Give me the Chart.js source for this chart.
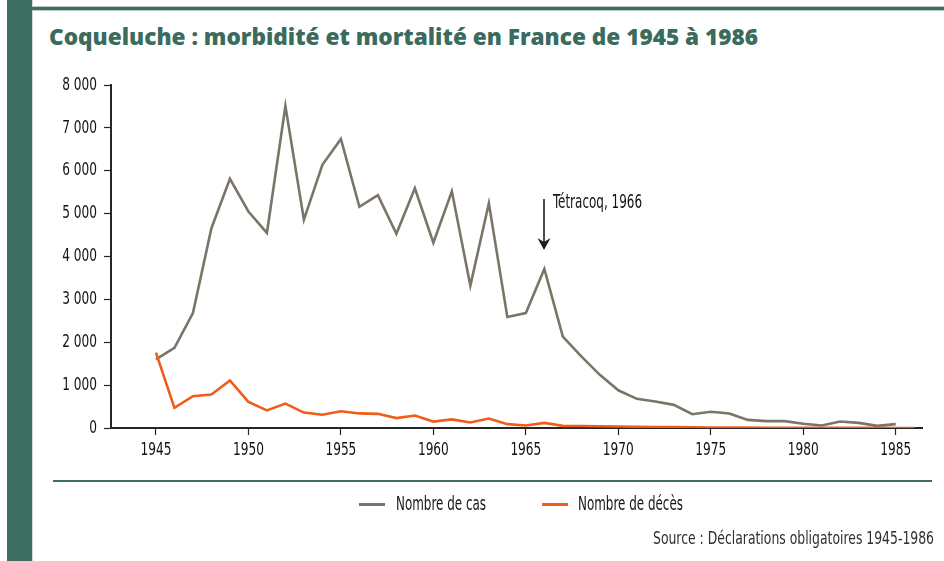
<!DOCTYPE html>
<html lang="fr">
<head>
<meta charset="utf-8">
<title>Coqueluche : morbidité et mortalité en France de 1945 à 1986</title>
<script src="https://cdn.jsdelivr.net/npm/chart.js@4.4.1/dist/chart.umd.min.js"></script>
<style>
  html, body { margin: 0; padding: 0; background: #fff; }
  #page { position: relative; width: 944px; height: 561px; overflow: hidden; background: #fff; }
  #sidebar { position: absolute; left: 7px; top: 0; width: 25px; height: 561px; background: #3e6e61; }
  #sideedge { position: absolute; left: 32px; top: 0; width: 1px; height: 561px; background: #cfd8d5; }
  #topline { position: absolute; left: 32px; top: 6px; width: 912px; height: 3px; background: #3e6e61;
             border-top: 1px solid #bccac5; border-bottom: 1px solid #bccac5; }
  #title { position: absolute; left: 49px; top: 25px; white-space: nowrap; line-height: 1;
           font-family: 'Open Sans', Lato, sans-serif; font-weight: 800; font-size: 22px; color: #3a6b5d;
           transform-origin: left center; }
  #chart { position: absolute; left: 0; top: 0; }
  #sep { position: absolute; left: 53px; top: 480px; width: 879px; height: 2px; background: #3e6e61; }
  .narrow { font-family: 'Liberation Sans Narrow', 'Arial Narrow', 'DejaVu Sans Condensed', 'Roboto Condensed', sans-serif; }
  .lg-line { position: absolute; height: 3px; }
  .lg-text { position: absolute; white-space: nowrap; line-height: 1; font-size: 19px; color: #161616; transform-origin: left center; }
  #source { position: absolute; left: 653px; top: 529px; white-space: nowrap; line-height: 1; font-size: 18px; color: #2e2e2e; transform-origin: left center; }
</style>
</head>
<body>
<div id="page">
  <div id="sidebar"></div>
  <div id="sideedge"></div>
  <div id="topline"></div>
  <div id="title">Coqueluche : morbidité et mortalité en France de 1945 à 1986</div>
  <canvas id="chart" width="944" height="561"></canvas>
  <div id="sep"></div>
  <div class="lg-line" style="left:359px; top:503px; width:26px; background:#7b7569;"></div>
  <div id="lg1" class="lg-text narrow" style="left:396px; top:494px;">Nombre de cas</div>
  <div class="lg-line" style="left:542px; top:503px; width:26px; background:#f25c1a;"></div>
  <div id="lg2" class="lg-text narrow" style="left:578px; top:494px;">Nombre de décès</div>
  <div id="source" class="narrow">Source : Déclarations obligatoires 1945-1986</div>
</div>
<script>
// ---------------- DATA ----------------
const years = [1945, 1946, 1947, 1948, 1949, 1950, 1951, 1952, 1953, 1954,
               1955, 1956, 1957, 1958, 1959, 1960, 1961, 1962, 1963, 1964,
               1965, 1966, 1967, 1968, 1969, 1970, 1971, 1972, 1973, 1974,
               1975, 1976, 1977, 1978, 1979, 1980, 1981, 1982, 1983, 1984,
               1985, 1986];

// Nombre de cas (déclarations), 1945-1985
const cases = [1600, 1870, 2680, 4660, 5810, 5050, 4550, 7510, 4860, 6140,
               6740, 5160, 5430, 4530, 5590, 4320, 5520, 3320, 5240, 2590,
               2680, 3710, 2130, 1670, 1240, 880, 680, 620, 540, 320,
               380, 340, 190, 160, 160, 100, 60, 150, 120, 50,
               90, null];

// Nombre de décès, 1945-1986
const deaths = [1760, 470, 740, 780, 1110, 610, 410, 570, 360, 310,
                390, 340, 330, 230, 290, 150, 200, 130, 220, 90,
                60, 120, 50, 45, 40, 35, 30, 25, 20, 15,
                10, 10, 8, 6, 5, 4, 3, 3, 2, 2,
                1, 0];

const xTickValues = [1945, 1950, 1955, 1960, 1965, 1970, 1975, 1980, 1985];
const yTickValues = [0, 1000, 2000, 3000, 4000, 5000, 6000, 7000, 8000];

const seriesNames = ['Nombre de cas', 'Nombre de décès'];
const annotationYear = 1966;
const annotationLabel = 'Tétracoq, 1966';

// ---------------- CHART ----------------
const NARROW = "'Liberation Sans Narrow', 'Arial Narrow', 'DejaVu Sans Condensed', 'Roboto Condensed', sans-serif";
const AXIS = '#262626';

function fmt(v) { return String(v).replace(/\B(?=(\d{3})+(?!\d))/g, ' '); }

const toPoints = arr => years.map((yr, i) => ({ x: yr, y: arr[i] === undefined ? null : arr[i] }));

// draws canvas text horizontally condensed around its anchor point
const condensePlugin = {
  id: 'condense',
  beforeDraw(chart, args, opts) {
    const ctx = chart.ctx;
    if (ctx._origFill) return;
    const orig = ctx.fillText;
    const k = opts.factor;
    ctx._origFill = orig;
    ctx.fillText = function (t, x, y, mw) {
      this.save();
      this.translate(x, y);
      this.scale(k, 1);
      if (mw === undefined) orig.call(this, t, 0, 0);
      else orig.call(this, t, 0, 0, mw / k);
      this.restore();
    };
  },
  afterDraw(chart) {
    const ctx = chart.ctx;
    if (ctx._origFill) { ctx.fillText = ctx._origFill; delete ctx._origFill; }
  }
};

const arrowPlugin = {
  id: 'tetracoq',
  afterDatasetsDraw(chart, args, opts) {
    const { ctx, scales: { x, y } } = chart;
    const px = Math.round(x.getPixelForValue(annotationYear));
    const yTop = y.getPixelForValue(opts.fromValue);
    const yTip = y.getPixelForValue(opts.toValue);
    ctx.save();
    ctx.strokeStyle = '#1e1e1e';
    ctx.fillStyle = '#1e1e1e';
    ctx.lineWidth = 1.6;
    ctx.beginPath();
    ctx.moveTo(px, yTop);
    ctx.lineTo(px, yTip - 8);
    ctx.stroke();
    ctx.beginPath();
    ctx.moveTo(px - 6.5, yTip - 12);
    ctx.lineTo(px, yTip - 8);
    ctx.lineTo(px + 6.5, yTip - 12);
    ctx.lineTo(px, yTip);
    ctx.closePath();
    ctx.fill();
    ctx.font = "20px " + NARROW;
    ctx.textBaseline = 'alphabetic';
    ctx.textAlign = 'left';
    const w = ctx.measureText(annotationLabel).width;
    const sx = opts.textWidth / w;
    ctx.fillStyle = '#141414';
    ctx.translate(px + 9, yTop + 9);
    ctx.scale(sx, 1);
    (ctx._origFill || ctx.fillText).call(ctx, annotationLabel, 0, 0);
    ctx.restore();
  }
};

const chart = new Chart(document.getElementById('chart'), {
  type: 'line',
  data: {
    datasets: [
      {
        label: seriesNames[0],
        data: toPoints(cases),
        borderColor: '#7b7569',
        backgroundColor: '#7b7569',
        borderWidth: 2.6,
        pointRadius: 0,
        tension: 0,
        spanGaps: false,
        order: 2
      },
      {
        label: seriesNames[1],
        data: toPoints(deaths),
        borderColor: '#f25c1a',
        backgroundColor: '#f25c1a',
        borderWidth: 2.6,
        pointRadius: 0,
        tension: 0,
        order: 1
      }
    ]
  },
  options: {
    responsive: false,
    animation: false,
    devicePixelRatio: 1,
    layout: { padding: { left: 0, top: 85, right: 22, bottom: 93 } },
    plugins: {
      legend: { display: false },
      title: { display: false },
      tooltip: { enabled: false },
      condense: { factor: 0.75 },
      tetracoq: { fromValue: 5340, toValue: 4150, textWidth: 89 }
    },
    scales: {
      x: {
        type: 'linear',
        min: 1942.57,
        max: 1986.42,
        afterBuildTicks: s => { s.ticks = xTickValues.map(v => ({ value: v })); },
        afterFit: s => { s.height = 40; },
        ticks: {
          autoSkip: false,
          maxRotation: 0,
          padding: 5,
          color: '#111',
          font: { family: NARROW, size: 18 },
          callback: v => String(v)
        },
        grid: { display: true, drawOnChartArea: false, drawTicks: true, tickLength: 7, tickColor: AXIS, tickWidth: 1.2 },
        border: { display: true, color: AXIS, width: 2 }
      },
      y: {
        min: 0,
        max: 8000,
        afterBuildTicks: s => { s.ticks = yTickValues.map(v => ({ value: v })); },
        afterFit: s => { s.width = 111; },
        ticks: {
          padding: 7,
          color: '#111',
          font: { family: NARROW, size: 18 },
          callback: v => fmt(v)
        },
        grid: { display: true, drawOnChartArea: false, drawTicks: true, tickLength: 7, tickColor: AXIS, tickWidth: 1.2 },
        border: { display: true, color: AXIS, width: 2 }
      }
    }
  },
  plugins: [condensePlugin, arrowPlugin]
});

// fit HTML texts to the reference widths
function fitWidth(id, target) {
  const el = document.getElementById(id);
  el.style.transform = 'none';
  const w = el.getBoundingClientRect().width;
  if (w > 0) el.style.transform = 'scaleX(' + (target / w) + ')';
}
fitWidth('title', 709);
fitWidth('lg1', 90);
fitWidth('lg2', 105);
fitWidth('source', 281);
</script>
</body>
</html>
